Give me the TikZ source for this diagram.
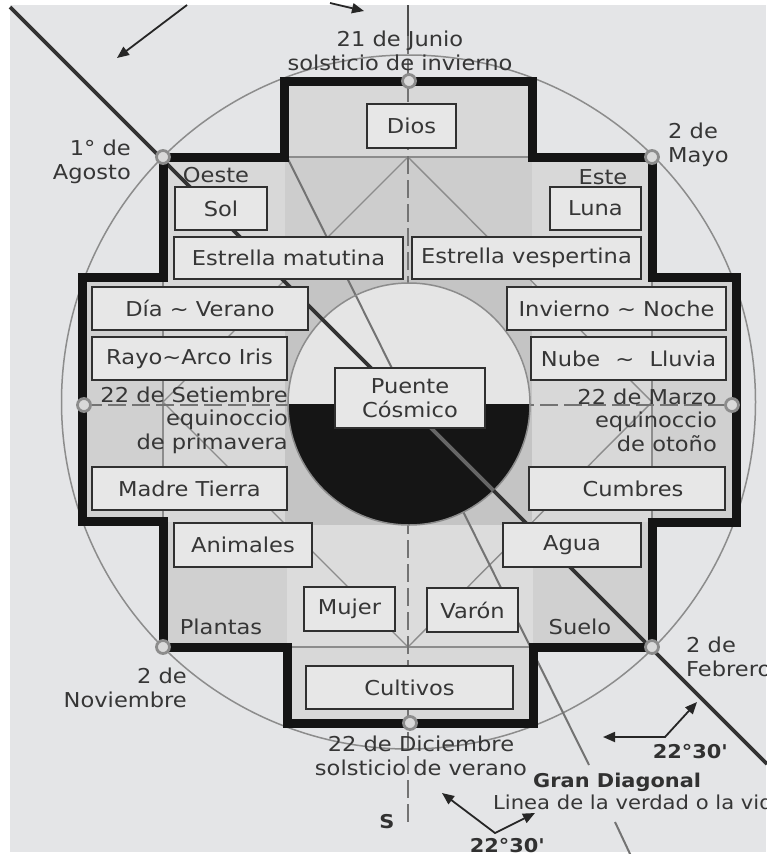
\documentclass[tikz,border=0pt]{standalone}
\usepackage{fontspec}
\setmainfont{DejaVu Sans}[FakeStretch=1.1]
\usetikzlibrary{arrows.meta}
\definecolor{bgc}{HTML}{E4E5E7}
\definecolor{crossfill}{HTML}{D8D8D8}
\definecolor{bandtop}{HTML}{CDCDCD}
\definecolor{armside}{HTML}{D0D0D0}
\definecolor{censq}{HTML}{C4C4C4}
\definecolor{bandbot}{HTML}{DCDCDC}
\definecolor{boxfill}{HTML}{E7E7E7}
\definecolor{boxline}{HTML}{303030}
\definecolor{txt}{HTML}{363636}
\definecolor{thinline}{HTML}{8C8C8C}
\definecolor{diskup}{HTML}{E5E5E5}
\definecolor{diskdn}{HTML}{151515}
\newcommand\fs{\fontsize{20.5}{23.5}\selectfont}
\newcommand\fsm{\fontsize{19.2}{23}\selectfont}
\newcommand\fb{\fontsize{19}{22}\selectfont\bfseries}
\tikzset{
  box/.style={draw=boxline, line width=1.8pt, fill=boxfill, inner sep=0pt, text=txt, font=\fs},
  lbl/.style={inner sep=0pt, text=txt, font=\fs},
  blbl/.style={inner sep=0pt, text=txt!90!black, font=\fb},
  thinl/.style={draw=thinline, line width=1.4pt},
  axis/.style={draw=black!55, line width=1.6pt, dash pattern=on 18pt off 6pt},
  marker/.style={circle, draw=black!45, line width=2.8pt, fill=black!15, minimum size=13pt, inner sep=0pt},
  gdline/.style={draw=black!80, line width=3.6pt},
  ang/.style={draw=black!55, line width=2pt},
  arr/.style={draw=black!85, line width=1.8pt, -{Triangle[length=12pt,width=10pt]}},
  arr2/.style={draw=black!85, line width=1.8pt, {Triangle[length=12pt,width=10pt]}-{Triangle[length=12pt,width=10pt]}},
}
\begin{document}
\begin{tikzpicture}[x=1pt,y=-1pt]
\useasboundingbox (0,0) rectangle (767,854);
\fill[white] (0,0) rectangle (767,854);
\fill[bgc] (10,5) rectangle (766,852);

% big circle
\coordinate (cc) at (408.5,402);
\draw[thinline, line width=1.5pt] (cc) circle[radius=347];

% cross fill and shading
\fill[crossfill] (284,81) -- (532,81) -- (532,157) -- (652,157) -- (652,277) -- (736,277) -- (736,522) -- (652,522) -- (652,647) -- (533,647) -- (533,723) -- (287,723) -- (287,647) -- (163,647) -- (163,521) -- (82,521) -- (82,277) -- (163,277) -- (163,157) -- (284,157) -- cycle;
\fill[bandtop] (285,157) rectangle (532,280);
\fill[armside] (82,277) rectangle (163,521);
\fill[armside] (652,277) rectangle (736,522);
\fill[armside] (163,522) rectangle (287,647);
\fill[armside] (533,522) rectangle (652,647);
\fill[bandbot] (287,525) rectangle (533,647);
\fill[censq] (285,280) rectangle (532,525);

% inner square and diamond
\coordinate (sqNW) at (163,157); \coordinate (sqSE) at (652,647);
\draw[thinl] (sqNW) rectangle (sqSE);
\coordinate (dN) at (408,157); \coordinate (dE) at (652,402);
\coordinate (dS) at (408,647); \coordinate (dW) at (163,402);
\draw[thinl] (dN) -- (dE) -- (dS) -- (dW) -- cycle;

% axes
\coordinate (vTop) at (408,5); \coordinate (vMid) at (408,36); \coordinate (vBot) at (408,826);
\draw[draw=black!70, line width=1.6pt] (vTop) -- (vMid);
\draw[axis] (vMid) -- (vBot);
\coordinate (hL) at (84,405); \coordinate (hR) at (732,405);
\draw[axis] (hL) -- (hR);

% central disk (upper half light)
\coordinate (dc) at (409,404);
\fill[diskup] (288,404) arc[start angle=180, end angle=360, radius=121] -- cycle;
% 22 30 line
\coordinate (a1) at (287,157);
\coordinate (a2) at (589,765);
\coordinate (a3) at (615,822);
\coordinate (a4) at (631,856);
\draw[ang] (a1) -- (a2);
\draw[ang] (a3) -- (a4);
% lower half black
\fill[diskdn] (288,404) arc[start angle=180, end angle=0, radius=121] -- cycle;
\draw[thinline, line width=1.5pt] (dc) circle[radius=121];

% gran diagonal
\coordinate (gd1) at (10,7); \coordinate (gd2) at (767,764);
\draw[gdline] (gd1) -- (gd2);
\begin{scope}
\clip (288,404) arc[start angle=180, end angle=0, radius=121] -- cycle;
\draw[draw=black!60, line width=3.6pt] (gd1) -- (gd2);
\end{scope}

% cross outline
\draw[black!92, line width=9pt, line join=miter] (284,81) -- (532,81) -- (532,157) -- (652,157) -- (652,277) -- (736,277) -- (736,522) -- (652,522) -- (652,647) -- (533,647) -- (533,723) -- (287,723) -- (287,647) -- (163,647) -- (163,521) -- (82,521) -- (82,277) -- (163,277) -- (163,157) -- (284,157) -- cycle;

% boxes
\node[box, minimum width=89pt, minimum height=44pt] (dios) at (411.5,126) {Dios};
\node[box, minimum width=92pt, minimum height=43pt] (sol) at (221,208.5) {Sol};
\node[box, minimum width=91pt, minimum height=43pt] (luna) at (595.5,208.5) {Luna};
\node[box, minimum width=229pt, minimum height=42pt] (emat) at (288.5,258) {Estrella matutina};
\node[box, minimum width=229pt, minimum height=42pt] (evesp) at (526.5,258) {Estrella vespertina};
\node[box, minimum width=216pt, minimum height=43pt] (dia) at (200,308.5) {Día \textasciitilde{} Verano\hspace{18pt}};
\node[box, minimum width=195pt, minimum height=43pt] (rayo) at (189.5,358.5) {Rayo\textasciitilde{}Arco Iris};
\node[box, minimum width=195pt, minimum height=43pt] (madre) at (189.5,488.5) {Madre Tierra\hspace{22pt}};
\node[box, minimum width=138pt, minimum height=44pt] (anim) at (243,545) {Animales};
\node[box, minimum width=219pt, minimum height=43pt] (inv) at (616.5,308.5) {Invierno \textasciitilde{} Noche};
\node[box, minimum width=195pt, minimum height=43pt] (nube) at (628.5,358.5) {Nube\hspace{8pt} \textasciitilde{} \hspace{8pt}Lluvia};
\node[box, minimum width=196pt, minimum height=43pt] (cumb) at (627,488.5) {\hspace{12pt}Cumbres};
\node[box, minimum width=138pt, minimum height=44pt] (agua) at (572,545) {Agua};
\node[box, minimum width=150pt, minimum height=60pt, align=center] (puente) at (410,398) {Puente\\Cósmico};
\node[box, minimum width=91pt, minimum height=44pt] (mujer) at (349.5,609) {Mujer};
\node[box, minimum width=91pt, minimum height=44pt] (varon) at (472.5,610) {Varón};
\node[box, minimum width=207pt, minimum height=43pt] (cult) at (409.5,687.5) {Cultivos};

% labels
\node[lbl, align=center] (junio) at (400,51) {21 de Junio\\solsticio de invierno};
\node[lbl, align=right, anchor=east] (agosto) at (131,162) {1° de\\Agosto};
\node[lbl, align=left, anchor=west] (mayo) at (668,145) {2 de\\Mayo};
\node[lbl] (oeste) at (216,175) {Oeste};
\node[lbl] (este) at (603,177) {Este};
\node[lbl, align=right, anchor=east] (setiembre) at (288,420) {22 de Setiembre\\equinoccio\\de primavera};
\node[lbl, align=right, anchor=east] (marzo) at (717,420) {22 de Marzo\\equinoccio\\de otoño};
\node[lbl] (plantas) at (221,627) {Plantas};
\node[lbl] (suelo) at (580,627) {Suelo};
\node[lbl, align=right, anchor=east] (noviembre) at (187,688) {2 de\\Noviembre};
\node[lbl, align=left, anchor=west] (febrero) at (686,657) {2 de\\Febrero};
\node[lbl, align=center] (diciembre) at (421,756) {22 de Diciembre\\solsticio de verano};
\node[blbl] (sur) at (387,822) {S};
\node[blbl, anchor=west] (gran) at (533,782) {Gran Diagonal};
\node[lbl, font=\fsm, anchor=west] (linea) at (493,802) {Linea de la verdad o la vida};
\node[blbl] (ang1) at (690,752) {22°30\textquotesingle};
\node[blbl] (ang2) at (507,846) {22°30\textquotesingle};

% markers
\node[marker] (mNW) at (163,157) {};
\node[marker] (mNE) at (652,157) {};
\node[marker] (mSW) at (163,647) {};
\node[marker] (mSE) at (652,647) {};
\node[marker] (mW) at (84,405) {};
\node[marker] (mE) at (732,405) {};
\node[marker] (mN) at (409,81) {};
\node[marker] (mS) at (410,723) {};

% arrows
\coordinate (r0) at (665,737); \coordinate (r1) at (603,737); \coordinate (r2) at (697,702);
\draw[arr2] (r1) -- (r0) -- (r2);
\coordinate (b0) at (495,833); \coordinate (b1) at (442,793); \coordinate (b2) at (535,813);
\draw[arr2] (b1) -- (b0) -- (b2);
\coordinate (t0) at (187,5); \coordinate (t1) at (117,58);
\draw[arr] (t0) -- (t1);
\coordinate (u0) at (330,3); \coordinate (u1) at (364,11);
\draw[arr] (u0) -- (u1);
\end{tikzpicture}
\end{document}
